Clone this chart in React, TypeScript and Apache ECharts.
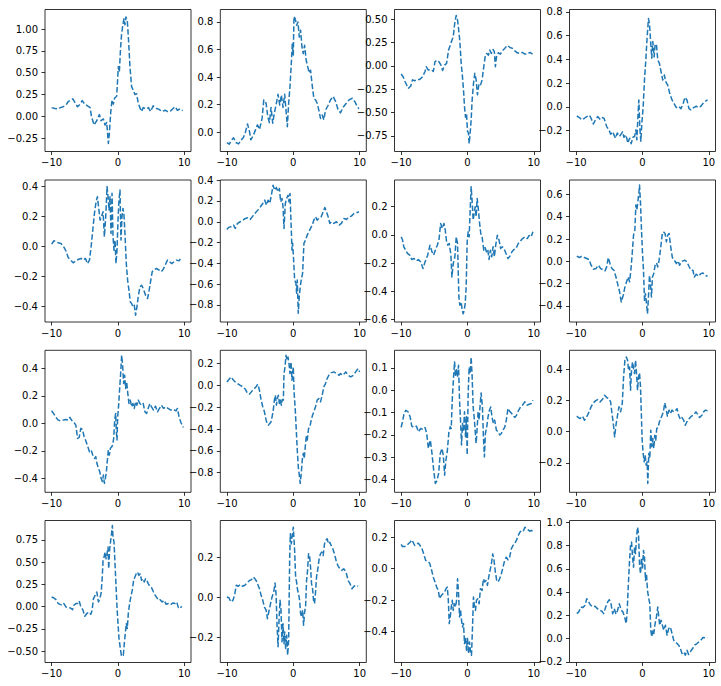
import React, { useEffect, useRef } from "react";
import * as echarts from "echarts";

const X_TICKS = [-10, 0, 10];

const S1 = [[-10,0.10],[-9.5,0.09],[-9.0,0.085],[-8.7,0.10],[-8.25,0.11],[-7.75,0.14],[-7.5,0.17],[-7.1,0.19],[-6.8,0.20],[-6.5,0.16],[-6.1,0.11],[-5.7,0.14],[-5.4,0.18],[-5.0,0.14],[-4.6,0.12],[-4.2,0.10],[-4.0,0.0],[-3.6,-0.10],[-3.2,-0.05],[-2.8,0.02],[-2.55,-0.05],[-2.2,-0.03],[-1.95,-0.10],[-1.7,-0.07],[-1.45,-0.31],[-1.3,-0.19],[-1.1,0.04],[-0.9,0.19],[-0.7,0.14],[-0.5,0.21],[-0.2,0.23],[0.05,0.57],[0.2,0.51],[0.4,0.80],[0.55,0.95],[0.7,1.03],[0.9,1.12],[1.05,1.05],[1.2,1.14],[1.4,1.10],[1.6,0.86],[1.8,0.57],[2.05,0.34],[2.3,0.30],[2.55,0.25],[2.8,0.26],[3.05,0.15],[3.3,0.10],[3.55,0.055],[3.8,0.10],[4.2,0.085],[4.6,0.10],[4.9,0.055],[5.3,0.12],[5.8,0.09],[6.2,0.08],[6.6,0.055],[7.1,0.07],[7.5,0.055],[7.9,0.06],[8.3,0.09],[8.6,0.11],[8.95,0.07],[9.35,0.085],[9.75,0.065]];
const S2 = [[-10,-0.075],[-9.65,-0.087],[-9.35,-0.06],[-9.0,-0.04],[-8.65,-0.075],[-8.25,-0.085],[-7.9,-0.06],[-7.5,-0.036],[-7.25,-0.007],[-6.9,0.06],[-6.6,0.005],[-6.4,-0.055],[-6.0,-0.02],[-5.7,0.017],[-5.4,0.053],[-5.1,0.02],[-4.7,0.10],[-4.45,0.234],[-4.1,0.21],[-3.85,0.113],[-3.6,0.07],[-3.35,0.18],[-3.1,0.065],[-2.85,0.14],[-2.55,0.21],[-2.3,0.275],[-2.05,0.197],[-1.8,0.27],[-1.55,0.18],[-1.3,0.275],[-1.1,0.16],[-0.9,0.04],[-0.7,0.21],[-0.5,0.33],[-0.3,0.50],[-0.15,0.64],[0.0,0.56],[0.1,0.84],[0.3,0.82],[0.5,0.775],[0.7,0.80],[0.9,0.69],[1.1,0.74],[1.3,0.62],[1.5,0.57],[1.7,0.63],[1.95,0.52],[2.2,0.47],[2.4,0.43],[2.6,0.45],[2.85,0.34],[3.1,0.245],[3.35,0.234],[3.6,0.21],[3.85,0.16],[4.1,0.10],[4.35,0.125],[4.6,0.09],[4.85,0.16],[5.2,0.19],[5.6,0.234],[6.0,0.26],[6.4,0.22],[6.7,0.17],[7.1,0.14],[7.5,0.18],[7.9,0.205],[8.4,0.234],[8.9,0.246],[9.3,0.22],[9.65,0.185],[9.9,0.17]];
const S3 = [[-10,-0.088],[-9.7,-0.116],[-9.4,-0.17],[-9.1,-0.216],[-8.9,-0.24],[-8.55,-0.216],[-8.3,-0.15],[-7.95,-0.16],[-7.55,-0.145],[-7.2,-0.145],[-6.8,-0.12],[-6.4,-0.06],[-6.2,-0.01],[-5.9,-0.045],[-5.5,-0.04],[-5.15,-0.06],[-4.9,0.044],[-4.6,0.06],[-4.3,0.044],[-4.0,0.008],[-3.75,-0.05],[-3.45,0.008],[-3.15,0.026],[-2.85,0.17],[-2.6,0.22],[-2.35,0.275],[-2.15,0.31],[-1.9,0.47],[-1.7,0.54],[-1.5,0.49],[-1.35,0.40],[-1.15,0.26],[-0.95,0.026],[-0.8,-0.08],[-0.6,-0.26],[-0.45,-0.44],[-0.3,-0.55],[-0.15,-0.51],[0.0,-0.70],[0.15,-0.72],[0.25,-0.835],[0.4,-0.72],[0.55,-0.58],[0.7,-0.365],[0.9,-0.19],[1.1,-0.08],[1.3,-0.15],[1.5,-0.31],[1.7,-0.205],[1.9,-0.22],[2.2,-0.15],[2.45,-0.01],[2.7,0.115],[2.9,0.133],[3.15,0.115],[3.35,0.17],[3.6,0.133],[3.85,0.176],[4.05,0.15],[4.2,-0.01],[4.4,0.115],[4.65,0.14],[4.95,0.126],[5.25,0.16],[5.6,0.187],[6.0,0.22],[6.4,0.197],[6.8,0.187],[7.15,0.16],[7.5,0.14],[7.9,0.133],[8.25,0.144],[8.65,0.126],[9.05,0.126],[9.4,0.144],[9.8,0.126]];
const S4 = [[-9.9,-0.077],[-9.5,-0.09],[-9.15,-0.11],[-8.75,-0.096],[-8.4,-0.082],[-8.0,-0.07],[-7.75,-0.096],[-7.4,-0.144],[-7.05,-0.105],[-6.75,-0.082],[-6.4,-0.105],[-6.15,-0.09],[-5.8,-0.096],[-5.4,-0.166],[-5.05,-0.194],[-4.8,-0.23],[-4.5,-0.21],[-4.3,-0.236],[-4.05,-0.264],[-3.8,-0.22],[-3.5,-0.25],[-3.3,-0.236],[-3.0,-0.21],[-2.8,-0.256],[-2.5,-0.236],[-2.2,-0.306],[-1.95,-0.264],[-1.7,-0.31],[-1.45,-0.256],[-1.2,-0.25],[-1.0,-0.194],[-0.85,-0.278],[-0.7,-0.096],[-0.55,0.058],[-0.4,-0.18],[-0.25,-0.29],[-0.1,-0.138],[0.1,0.0],[0.3,0.226],[0.5,0.394],[0.7,0.59],[0.9,0.744],[1.05,0.70],[1.25,0.53],[1.4,0.41],[1.55,0.55],[1.75,0.42],[1.9,0.52],[2.1,0.53],[2.3,0.394],[2.55,0.366],[2.8,0.296],[3.05,0.226],[3.3,0.268],[3.5,0.212],[3.8,0.184],[4.1,0.114],[4.45,0.058],[4.8,0.024],[5.1,-0.006],[5.45,0.005],[5.8,-0.015],[6.1,0.024],[6.4,0.08],[6.7,0.058],[7.0,-0.015],[7.3,-0.026],[7.7,-0.006],[8.1,0.005],[8.45,-0.006],[8.8,0.005],[9.2,0.035],[9.6,0.052],[9.8,0.058]];
const S5 = [[-10,0.013],[-9.65,0.036],[-9.35,0.029],[-9.0,0.022],[-8.6,0.018],[-8.25,0.0],[-7.9,-0.027],[-7.5,-0.076],[-7.15,-0.093],[-6.75,-0.111],[-6.35,-0.098],[-6.0,-0.089],[-5.6,-0.082],[-5.2,-0.093],[-4.9,-0.082],[-4.6,-0.116],[-4.3,-0.093],[-4.05,-0.004],[-3.8,0.107],[-3.55,0.218],[-3.3,0.296],[-3.1,0.329],[-2.9,0.25],[-2.7,0.173],[-2.5,0.196],[-2.25,0.229],[-2.05,0.062],[-1.85,0.196],[-1.65,0.396],[-1.5,0.329],[-1.35,0.24],[-1.2,0.329],[-1.05,0.084],[-0.9,0.351],[-0.75,0.062],[-0.6,-0.027],[-0.45,0.04],[-0.3,-0.116],[-0.15,-0.027],[0.0,0.173],[0.15,0.307],[0.3,0.373],[0.45,0.04],[0.6,0.196],[0.75,0.251],[0.9,0.207],[1.05,0.084],[1.25,-0.116],[1.45,-0.227],[1.65,-0.293],[1.85,-0.371],[2.05,-0.382],[2.25,-0.404],[2.45,-0.393],[2.65,-0.46],[2.85,-0.404],[3.05,-0.338],[3.3,-0.271],[3.55,-0.26],[3.8,-0.282],[4.15,-0.327],[4.45,-0.349],[4.7,-0.293],[4.9,-0.238],[5.15,-0.171],[5.45,-0.156],[5.8,-0.149],[6.2,-0.16],[6.5,-0.171],[6.8,-0.156],[7.1,-0.127],[7.45,-0.093],[7.75,-0.104],[8.1,-0.116],[8.45,-0.104],[8.85,-0.093],[9.2,-0.098],[9.55,-0.076]];
const S6 = [[-10,-0.074],[-9.75,-0.054],[-9.4,-0.048],[-9.0,-0.032],[-8.75,-0.064],[-8.4,-0.016],[-8.0,0.0],[-7.6,0.016],[-7.2,0.032],[-6.9,0.038],[-6.5,0.022],[-6.1,0.054],[-5.7,0.086],[-5.35,0.112],[-4.95,0.144],[-4.6,0.176],[-4.3,0.208],[-4.05,0.16],[-3.8,0.208],[-3.55,0.176],[-3.3,0.256],[-3.05,0.352],[-2.8,0.304],[-2.55,0.33],[-2.3,0.288],[-2.1,0.32],[-1.9,0.192],[-1.7,0.224],[-1.55,0.144],[-1.4,-0.064],[-1.2,0.176],[-1.0,0.224],[-0.8,0.256],[-0.65,0.192],[-0.5,0.272],[-0.3,-0.08],[-0.2,-0.272],[-0.1,-0.208],[0.05,-0.368],[0.2,-0.56],[0.4,-0.592],[0.5,-0.688],[0.6,-0.56],[0.75,-0.88],[0.9,-0.72],[1.05,-0.624],[1.2,-0.56],[1.4,-0.496],[1.6,-0.208],[1.85,-0.176],[2.1,-0.128],[2.35,-0.096],[2.6,-0.064],[2.85,-0.032],[3.1,0.016],[3.35,0.048],[3.6,0.016],[3.85,0.032],[4.2,0.048],[4.5,0.096],[4.75,0.138],[5.0,0.096],[5.25,0.048],[5.5,-0.016],[5.75,0.0],[6.1,-0.016],[6.5,0.0],[6.9,-0.032],[7.25,-0.016],[7.65,0.032],[8.0,0.022],[8.4,0.048],[8.75,0.054],[9.15,0.08],[9.5,0.086],[9.9,0.096]];
const S7 = [[-10,-0.014],[-9.8,-0.033],[-9.6,-0.085],[-9.3,-0.109],[-9.05,-0.132],[-8.7,-0.144],[-8.4,-0.175],[-8.05,-0.168],[-7.7,-0.185],[-7.4,-0.175],[-7.05,-0.192],[-6.7,-0.239],[-6.4,-0.192],[-6.0,-0.144],[-5.65,-0.073],[-5.35,-0.12],[-5.1,-0.144],[-4.85,-0.109],[-4.55,-0.073],[-4.3,-0.037],[-4.05,0.081],[-3.8,0.046],[-3.55,0.081],[-3.35,0.034],[-3.15,-0.049],[-2.95,-0.073],[-2.75,-0.061],[-2.5,-0.144],[-2.35,-0.299],[-2.15,-0.204],[-1.9,-0.156],[-1.7,-0.014],[-1.5,-0.061],[-1.3,-0.441],[-1.15,-0.50],[-0.95,-0.477],[-0.8,-0.536],[-0.65,-0.56],[-0.5,-0.536],[-0.35,-0.488],[-0.2,-0.37],[-0.05,-0.049],[0.1,0.022],[0.25,-0.014],[0.4,0.176],[0.55,0.342],[0.7,0.236],[0.85,0.105],[1.0,0.153],[1.15,0.2],[1.3,0.129],[1.45,0.259],[1.6,0.2],[1.8,0.093],[2.0,0.01],[2.2,-0.014],[2.45,-0.109],[2.65,-0.09],[2.85,-0.12],[3.05,-0.104],[3.25,-0.175],[3.45,-0.109],[3.65,-0.156],[3.85,-0.085],[4.05,-0.156],[4.25,-0.073],[4.5,-0.002],[4.75,-0.037],[5.0,-0.097],[5.25,-0.085],[5.5,-0.097],[5.8,-0.132],[6.1,-0.168],[6.4,-0.151],[6.7,-0.12],[7.0,-0.104],[7.3,-0.097],[7.65,-0.061],[8.0,-0.042],[8.3,-0.026],[8.65,-0.014],[9.0,-0.026],[9.3,-0.004],[9.6,-0.014],[9.85,0.022]];
const S8 = [[-9.9,0.046],[-9.5,0.034],[-9.15,0.046],[-8.75,0.034],[-8.4,0.025],[-8.05,0.016],[-7.75,-0.035],[-7.4,-0.071],[-7.0,-0.065],[-6.65,-0.035],[-6.3,-0.065],[-6.0,-0.074],[-5.65,-0.086],[-5.4,-0.05],[-5.15,0.034],[-4.9,-0.02],[-4.6,-0.065],[-4.3,-0.08],[-4.0,-0.14],[-3.7,-0.214],[-3.45,-0.274],[-3.2,-0.364],[-2.9,-0.304],[-2.65,-0.23],[-2.4,-0.184],[-2.15,-0.14],[-1.95,-0.184],[-1.75,-0.08],[-1.55,0.07],[-1.35,0.235],[-1.15,0.28],[-1.0,0.504],[-0.85,0.46],[-0.7,0.534],[-0.55,0.61],[-0.45,0.684],[-0.3,0.52],[-0.15,0.28],[0.0,0.07],[0.15,-0.08],[0.3,-0.35],[0.45,-0.29],[0.6,-0.38],[0.75,-0.47],[0.9,-0.32],[1.05,-0.125],[1.2,-0.2],[1.35,-0.32],[1.5,-0.14],[1.7,-0.11],[1.9,-0.035],[2.1,-0.014],[2.3,-0.05],[2.5,0.01],[2.7,0.1],[2.95,0.235],[3.15,0.265],[3.4,0.25],[3.6,0.175],[3.8,0.235],[4.0,0.25],[4.25,0.13],[4.5,0.034],[4.8,0.01],[5.1,-0.02],[5.35,0.004],[5.6,-0.035],[5.85,-0.005],[6.1,0.004],[6.4,0.01],[6.7,-0.005],[7.0,-0.044],[7.3,-0.08],[7.6,-0.08],[7.8,-0.14],[8.1,-0.116],[8.45,-0.134],[8.8,-0.11],[9.1,-0.104],[9.45,-0.125],[9.8,-0.134]];
const S9 = [[-10,0.092],[-9.65,0.068],[-9.35,0.044],[-9.0,0.024],[-8.65,0.019],[-8.25,0.024],[-7.9,0.029],[-7.5,0.024],[-7.25,0.044],[-7.0,0.024],[-6.6,0.005],[-6.35,-0.012],[-6.1,-0.109],[-5.85,-0.102],[-5.6,-0.036],[-5.35,-0.044],[-5.1,-0.097],[-4.8,-0.133],[-4.55,-0.17],[-4.3,-0.206],[-4.05,-0.194],[-3.8,-0.23],[-3.55,-0.255],[-3.35,-0.242],[-3.15,-0.296],[-2.95,-0.327],[-2.75,-0.352],[-2.55,-0.40],[-2.35,-0.424],[-2.2,-0.376],[-2.05,-0.436],[-1.9,-0.40],[-1.75,-0.352],[-1.6,-0.267],[-1.45,-0.194],[-1.3,-0.23],[-1.15,-0.182],[-0.95,-0.17],[-0.8,-0.158],[-0.65,-0.109],[-0.5,0.024],[-0.35,0.073],[-0.25,-0.06],[-0.15,-0.121],[-0.05,0.049],[0.1,0.133],[0.25,0.255],[0.4,0.364],[0.55,0.497],[0.7,0.424],[0.85,0.291],[1.0,0.352],[1.15,0.255],[1.3,0.303],[1.45,0.23],[1.65,0.145],[1.85,0.17],[2.05,0.121],[2.25,0.145],[2.45,0.109],[2.65,0.158],[2.85,0.133],[3.05,0.17],[3.3,0.145],[3.55,0.133],[3.8,0.145],[4.05,0.085],[4.3,0.073],[4.55,0.109],[4.8,0.145],[5.05,0.121],[5.35,0.097],[5.65,0.126],[5.95,0.085],[6.25,0.109],[6.55,0.133],[6.85,0.109],[7.2,0.121],[7.55,0.109],[7.95,0.097],[8.35,0.102],[8.75,0.092],[8.95,0.109],[9.2,0.049],[9.5,0.005],[9.85,-0.029]];
const S10 = [[-10,0.032],[-9.7,0.054],[-9.4,0.078],[-9.1,0.054],[-8.75,0.032],[-8.4,0.017],[-8.0,0.0],[-7.6,-0.013],[-7.2,-0.038],[-6.9,-0.074],[-6.6,-0.08],[-6.2,-0.05],[-5.85,-0.029],[-5.55,-0.007],[-5.35,0.011],[-5.1,-0.044],[-4.85,-0.135],[-4.6,-0.196],[-4.35,-0.242],[-4.1,-0.318],[-3.95,-0.349],[-3.75,-0.364],[-3.55,-0.349],[-3.35,-0.334],[-3.2,-0.288],[-3.05,-0.242],[-2.85,-0.135],[-2.7,-0.09],[-2.55,-0.181],[-2.4,-0.12],[-2.25,-0.09],[-2.1,-0.166],[-1.95,-0.135],[-1.8,-0.181],[-1.65,-0.129],[-1.5,-0.135],[-1.4,0.109],[-1.25,0.17],[-1.1,0.276],[-0.95,0.23],[-0.8,0.261],[-0.65,0.2],[-0.5,0.109],[-0.35,0.215],[-0.2,0.048],[0.0,0.17],[0.1,-0.044],[0.3,-0.227],[0.45,-0.41],[0.6,-0.593],[0.75,-0.745],[0.9,-0.821],[1.05,-0.898],[1.2,-0.806],[1.35,-0.684],[1.5,-0.623],[1.65,-0.669],[1.8,-0.562],[1.95,-0.47],[2.1,-0.501],[2.3,-0.395],[2.5,-0.379],[2.7,-0.318],[2.9,-0.273],[3.1,-0.242],[3.35,-0.196],[3.6,-0.135],[3.85,-0.12],[4.1,-0.151],[4.35,-0.09],[4.6,-0.013],[4.85,0.017],[5.1,0.063],[5.35,0.093],[5.7,0.115],[6.1,0.124],[6.5,0.109],[6.9,0.093],[7.1,0.109],[7.5,0.093],[7.9,0.124],[8.25,0.093],[8.65,0.078],[9.05,0.093],[9.4,0.124],[9.75,0.154],[10,0.124]];
const S11 = [[-10,-0.167],[-9.8,-0.142],[-9.55,-0.104],[-9.3,-0.09],[-8.95,-0.097],[-8.65,-0.119],[-8.4,-0.161],[-8.05,-0.167],[-7.7,-0.161],[-7.4,-0.187],[-7.05,-0.172],[-6.7,-0.176],[-6.4,-0.167],[-6.15,-0.194],[-5.9,-0.261],[-5.6,-0.224],[-5.35,-0.284],[-5.1,-0.358],[-4.85,-0.418],[-4.6,-0.406],[-4.35,-0.373],[-4.1,-0.284],[-3.85,-0.261],[-3.65,-0.291],[-3.45,-0.381],[-3.25,-0.313],[-3.05,-0.276],[-2.8,-0.187],[-2.6,-0.164],[-2.45,-0.172],[-2.3,-0.045],[-2.1,0.06],[-1.95,0.127],[-1.8,0.06],[-1.65,0.097],[-1.5,0.06],[-1.35,0.112],[-1.2,-0.045],[-1.05,-0.134],[-0.9,-0.246],[-0.75,-0.149],[-0.6,-0.179],[-0.45,-0.097],[-0.3,-0.209],[-0.15,-0.119],[-0.05,-0.291],[0.1,-0.015],[0.25,0.104],[0.4,0.075],[0.55,0.149],[0.7,0.06],[0.85,-0.075],[1.0,-0.119],[1.15,-0.179],[1.3,-0.239],[1.45,-0.172],[1.6,-0.097],[1.75,-0.134],[1.9,-0.067],[2.05,-0.012],[2.25,-0.075],[2.4,-0.209],[2.55,-0.299],[2.7,-0.194],[2.9,-0.164],[3.1,-0.119],[3.3,-0.09],[3.5,-0.075],[3.7,-0.122],[3.9,-0.149],[4.1,-0.134],[4.35,-0.179],[4.6,-0.187],[4.85,-0.201],[5.1,-0.194],[5.35,-0.179],[5.6,-0.167],[5.85,-0.134],[6.1,-0.082],[6.4,-0.097],[6.65,-0.104],[6.9,-0.116],[7.15,-0.122],[7.4,-0.112],[7.7,-0.09],[8.0,-0.075],[8.3,-0.067],[8.65,-0.052],[9.0,-0.067],[9.3,-0.063],[9.6,-0.06],[9.85,-0.045]];
const S12 = [[-9.9,0.10],[-9.65,0.091],[-9.4,0.085],[-9.05,0.10],[-8.75,0.074],[-8.4,0.096],[-8.05,0.128],[-7.75,0.16],[-7.4,0.186],[-7.05,0.20],[-6.75,0.207],[-6.4,0.192],[-6.05,0.207],[-5.7,0.235],[-5.4,0.22],[-5.1,0.214],[-4.8,0.192],[-4.6,0.117],[-4.4,0.053],[-4.2,-0.033],[-4.0,0.042],[-3.8,0.096],[-3.55,0.16],[-3.3,0.128],[-3.05,0.181],[-2.85,0.353],[-2.65,0.46],[-2.45,0.481],[-2.25,0.46],[-2.1,0.396],[-1.95,0.417],[-1.8,0.267],[-1.65,0.396],[-1.5,0.449],[-1.35,0.406],[-1.2,0.374],[-1.05,0.46],[-0.9,0.374],[-0.75,0.267],[-0.6,0.353],[-0.45,0.379],[-0.3,0.289],[-0.2,0.149],[-0.05,-0.054],[0.1,-0.14],[0.25,-0.194],[0.4,-0.151],[0.55,-0.215],[0.7,-0.194],[0.8,-0.333],[0.95,-0.14],[1.1,-0.172],[1.25,0.01],[1.4,-0.097],[1.55,-0.044],[1.7,-0.108],[1.85,-0.022],[2.0,-0.054],[2.15,0.021],[2.35,0.027],[2.55,0.064],[2.75,0.085],[2.95,0.106],[3.15,0.128],[3.35,0.186],[3.55,0.149],[3.75,0.10],[4.0,0.139],[4.2,0.117],[4.45,0.139],[4.7,0.128],[4.95,0.134],[5.2,0.149],[5.45,0.106],[5.7,0.079],[5.95,0.091],[6.2,0.074],[6.45,0.042],[6.7,0.064],[7.05,0.085],[7.35,0.10],[7.7,0.106],[8.05,0.128],[8.3,0.113],[8.6,0.091],[8.95,0.106],[9.2,0.128],[9.5,0.139],[9.8,0.134]];
const S13 = [[-10,0.108],[-9.65,0.097],[-9.35,0.078],[-9.0,0.034],[-8.65,0.022],[-8.35,0.015],[-8.15,0.034],[-7.85,-0.004],[-7.5,-0.011],[-7.15,-0.015],[-6.85,-0.034],[-6.65,0.015],[-6.35,0.034],[-6.1,0.034],[-5.85,0.063],[-5.6,-0.004],[-5.3,-0.034],[-5.0,-0.108],[-4.7,-0.078],[-4.4,-0.06],[-4.1,-0.086],[-3.9,-0.041],[-3.7,0.09],[-3.45,0.127],[-3.2,0.164],[-2.95,0.052],[-2.75,0.09],[-2.55,0.146],[-2.4,0.295],[-2.25,0.519],[-2.1,0.556],[-1.95,0.612],[-1.8,0.537],[-1.65,0.593],[-1.5,0.668],[-1.4,0.425],[-1.25,0.65],[-1.1,0.743],[-1.0,0.799],[-0.85,0.91],[-0.75,0.78],[-0.6,0.724],[-0.45,0.481],[-0.3,0.239],[-0.15,-0.004],[0.0,-0.19],[0.15,-0.358],[0.35,-0.47],[0.5,-0.545],[0.65,-0.534],[0.8,-0.545],[0.95,-0.414],[1.1,-0.302],[1.25,-0.19],[1.4,-0.246],[1.55,-0.078],[1.75,0.034],[1.95,0.116],[2.15,0.183],[2.35,0.295],[2.55,0.332],[2.75,0.369],[2.95,0.388],[3.15,0.35],[3.35,0.369],[3.55,0.295],[3.75,0.313],[3.95,0.276],[4.15,0.313],[4.35,0.295],[4.55,0.257],[4.8,0.228],[5.05,0.213],[5.35,0.164],[5.6,0.127],[5.85,0.101],[6.1,0.071],[6.35,0.078],[6.65,0.052],[6.95,0.071],[7.25,0.026],[7.6,0.034],[7.95,0.022],[8.25,0.041],[8.6,0.034],[8.85,0.052],[9.1,-0.011],[9.35,-0.022],[9.6,0.004]];
const S14 = [[-10,0.002],[-9.7,-0.002],[-9.4,-0.023],[-9.1,-0.015],[-8.85,0.01],[-8.6,0.06],[-8.3,0.055],[-8.0,0.064],[-7.65,0.055],[-7.3,0.06],[-7.0,0.071],[-6.6,0.084],[-6.3,0.088],[-6.0,0.101],[-5.6,0.084],[-5.35,0.064],[-5.1,0.043],[-4.85,0.01],[-4.6,-0.015],[-4.35,-0.048],[-4.1,-0.064],[-3.9,-0.106],[-3.7,-0.073],[-3.45,-0.035],[-3.2,0.002],[-2.95,0.026],[-2.75,0.071],[-2.6,0.018],[-2.45,-0.139],[-2.3,-0.246],[-2.15,-0.114],[-2.0,-0.015],[-1.85,-0.064],[-1.7,-0.221],[-1.55,-0.131],[-1.4,-0.23],[-1.3,-0.172],[-1.15,-0.254],[-1.0,-0.188],[-0.85,-0.288],[-0.7,-0.213],[-0.55,0.183],[-0.45,0.316],[-0.3,0.266],[-0.1,0.324],[0.0,0.349],[0.2,0.233],[0.35,0.101],[0.5,0.076],[0.65,0.035],[0.8,0.018],[0.95,-0.015],[1.1,-0.081],[1.25,-0.098],[1.4,-0.064],[1.55,-0.139],[1.7,-0.073],[1.85,-0.048],[2.0,0.084],[2.15,0.134],[2.3,0.217],[2.45,0.208],[2.6,0.15],[2.75,0.068],[2.9,0.043],[3.05,-0.015],[3.2,-0.031],[3.35,0.026],[3.5,0.101],[3.7,0.142],[3.9,0.192],[4.1,0.217],[4.3,0.225],[4.5,0.208],[4.7,0.266],[4.9,0.283],[5.1,0.291],[5.3,0.266],[5.5,0.274],[5.7,0.258],[5.95,0.241],[6.2,0.217],[6.45,0.183],[6.7,0.159],[7.0,0.142],[7.3,0.134],[7.6,0.142],[7.95,0.126],[8.25,0.084],[8.55,0.068],[8.85,0.043],[9.15,0.055],[9.45,0.06],[9.75,0.055]];
const S15 = [[-10,0.154],[-9.8,0.141],[-9.45,0.141],[-9.15,0.147],[-8.9,0.158],[-8.65,0.168],[-8.4,0.183],[-8.2,0.168],[-7.95,0.147],[-7.65,0.158],[-7.4,0.162],[-7.15,0.147],[-6.9,0.132],[-6.6,0.094],[-6.3,0.052],[-6.0,0.048],[-5.7,0.035],[-5.4,-0.011],[-5.15,-0.054],[-4.9,-0.085],[-4.65,-0.117],[-4.4,-0.138],[-4.2,-0.191],[-3.95,-0.17],[-3.7,-0.159],[-3.45,-0.149],[-3.25,-0.128],[-3.05,-0.117],[-2.9,-0.191],[-2.75,-0.349],[-2.6,-0.307],[-2.45,-0.244],[-2.3,-0.201],[-2.15,-0.265],[-2.0,-0.223],[-1.8,-0.244],[-1.65,-0.201],[-1.5,-0.064],[-1.35,-0.159],[-1.2,-0.307],[-1.05,-0.265],[-0.9,-0.328],[-0.75,-0.37],[-0.6,-0.349],[-0.45,-0.476],[-0.3,-0.434],[-0.15,-0.518],[0.0,-0.444],[0.15,-0.539],[0.3,-0.466],[0.45,-0.529],[0.6,-0.55],[0.75,-0.381],[0.9,-0.18],[1.05,-0.244],[1.2,-0.265],[1.35,-0.201],[1.55,-0.191],[1.75,-0.223],[1.95,-0.128],[2.2,-0.138],[2.4,-0.064],[2.6,-0.085],[2.8,-0.075],[3.0,-0.106],[3.2,-0.054],[3.4,-0.011],[3.6,0.031],[3.8,0.094],[4.0,0.052],[4.2,-0.022],[4.4,-0.075],[4.6,-0.085],[4.85,-0.064],[5.1,-0.032],[5.35,0.01],[5.6,0.052],[5.85,0.073],[6.1,0.056],[6.35,0.073],[6.6,0.126],[6.85,0.147],[7.1,0.158],[7.4,0.183],[7.65,0.211],[7.9,0.232],[8.15,0.242],[8.4,0.238],[8.65,0.263],[8.9,0.253],[9.15,0.246],[9.4,0.238],[9.65,0.242],[9.9,0.238]];
const S16 = [[-9.9,0.214],[-9.6,0.229],[-9.3,0.271],[-9.0,0.266],[-8.65,0.286],[-8.4,0.343],[-8.1,0.314],[-7.8,0.286],[-7.5,0.271],[-7.15,0.277],[-6.8,0.257],[-6.5,0.243],[-6.15,0.237],[-5.85,0.214],[-5.55,0.271],[-5.25,0.314],[-5.0,0.334],[-4.75,0.30],[-4.5,0.214],[-4.25,0.257],[-4.0,0.209],[-3.75,0.243],[-3.5,0.30],[-3.2,0.243],[-2.95,0.229],[-2.7,0.186],[-2.45,0.129],[-2.3,0.243],[-2.15,0.443],[-1.95,0.671],[-1.8,0.80],[-1.65,0.829],[-1.5,0.70],[-1.35,0.614],[-1.2,0.786],[-1.05,0.729],[-0.9,0.871],[-0.75,0.957],[-0.6,0.90],[-0.45,0.643],[-0.3,0.557],[-0.15,0.686],[0.0,0.60],[0.15,0.757],[0.3,0.70],[0.45,0.50],[0.6,0.557],[0.75,0.414],[0.95,0.343],[1.1,0.30],[1.25,0.071],[1.4,0.014],[1.55,0.071],[1.7,0.043],[1.9,0.129],[2.1,0.186],[2.3,0.271],[2.45,0.186],[2.6,0.114],[2.8,0.157],[3.0,0.114],[3.2,0.071],[3.45,0.114],[3.7,0.029],[3.95,0.086],[4.2,0.10],[4.45,0.043],[4.7,-0.014],[4.95,-0.029],[5.2,-0.043],[5.45,-0.057],[5.7,-0.086],[5.95,-0.129],[6.2,-0.114],[6.45,-0.143],[6.7,-0.10],[6.95,-0.137],[7.2,-0.114],[7.55,-0.086],[7.85,-0.057],[8.2,-0.043],[8.5,-0.029],[8.8,-0.014],[9.1,0.009],[9.45,0.006],[9.8,0.006]];

const SERIES = [S1, S2, S3, S4, S5, S6, S7, S8, S9, S10, S11, S12, S13, S14, S15, S16];

const Y_MIN = [-0.403, -0.14, -0.918, -0.376, -0.505, -0.965, -0.619, -0.544, -0.502, -0.98, -0.458, -0.39, -0.627, -0.324, -0.596, -0.206];
const Y_MAX = [1.225, 0.89, 0.604, 0.82, 0.44, 0.402, 0.39, 0.729, 0.533, 0.322, 0.179, 0.524, 0.966, 0.382, 0.306, 1.015];
const Y_TICKS = [
  [-0.25, 0, 0.25, 0.5, 0.75, 1.0],
  [0, 0.2, 0.4, 0.6, 0.8],
  [-0.75, -0.5, -0.25, 0, 0.25, 0.5],
  [-0.2, 0, 0.2, 0.4, 0.6, 0.8],
  [-0.4, -0.2, 0, 0.2, 0.4],
  [-0.8, -0.6, -0.4, -0.2, 0, 0.2, 0.4],
  [-0.6, -0.4, -0.2, 0, 0.2],
  [-0.4, -0.2, 0, 0.2, 0.4, 0.6],
  [-0.4, -0.2, 0, 0.2, 0.4],
  [-0.8, -0.6, -0.4, -0.2, 0, 0.2],
  [-0.4, -0.3, -0.2, -0.1, 0, 0.1],
  [-0.2, 0, 0.2, 0.4],
  [-0.5, -0.25, 0, 0.25, 0.5, 0.75],
  [-0.2, 0, 0.2],
  [-0.4, -0.2, 0, 0.2],
  [-0.2, 0, 0.2, 0.4, 0.6, 0.8, 1.0],
];
const Y_DECIMALS = [2, 1, 2, 1, 1, 1, 1, 1, 1, 1, 1, 1, 2, 1, 1, 1];

const COL_LEFT = [45, 220.3, 394.5, 569.5];
const ROW_TOP = [9.5, 180, 350.3, 520.5];
const PANEL_W = 146;
const PANEL_H = 142;

const fmt = (v: number, d: number) => {
  const r = Math.abs(v) < 1e-9 ? 0 : v;
  return (r < 0 ? "\u2212" : "") + Math.abs(r).toFixed(d);
};

export default function App() {
  const ref = useRef<HTMLDivElement>(null);
  useEffect(() => {
    document.body.style.margin = "0";
    if (!ref.current) return;
    const chart = echarts.init(ref.current, null, { renderer: "svg" });
    const font = { fontFamily: "DejaVu Sans", fontSize: 10, color: "#000" };
    const tickStyle = { color: "#000", width: 0.8 };
    const grid: any[] = [];
    const xAxis: any[] = [];
    const yAxis: any[] = [];
    const series: any[] = [];
    SERIES.forEach((data, i) => {
      const col = i % 4;
      const row = Math.floor(i / 4);
      grid.push({
        left: COL_LEFT[col],
        top: ROW_TOP[row],
        width: PANEL_W,
        height: PANEL_H,
        show: true,
        borderColor: "#000",
        borderWidth: 0.8,
        backgroundColor: "transparent",
        containLabel: false,
        outerBoundsMode: "none",
      });
      xAxis.push({
        gridIndex: i,
        type: "value",
        min: -11,
        max: 11,
        axisLine: { show: false, onZero: false },
        axisTick: { show: true, customValues: X_TICKS, length: 3.5, lineStyle: tickStyle },
        axisLabel: { ...font, customValues: X_TICKS, margin: 6, formatter: (v: number) => fmt(v, 0) },
        splitLine: { show: false },
      });
      yAxis.push({
        gridIndex: i,
        type: "value",
        min: Y_MIN[i],
        max: Y_MAX[i],
        axisLine: { show: false, onZero: false },
        axisTick: { show: true, customValues: Y_TICKS[i], length: 3.5, lineStyle: tickStyle },
        axisLabel: { ...font, customValues: Y_TICKS[i], margin: 7, formatter: (v: number) => fmt(v, Y_DECIMALS[i]) },
        splitLine: { show: false },
      });
      series.push({
        type: "line",
        xAxisIndex: i,
        yAxisIndex: i,
        data,
        symbol: "none",
        showSymbol: false,
        lineStyle: { color: "#1f77b4", width: 1.5, type: [5.55, 2.4], cap: "butt", join: "round" },
        emphasis: { disabled: true },
      });
    });
    chart.setOption({
      animation: false,
      backgroundColor: "#fff",
      grid,
      xAxis,
      yAxis,
      series,
    });
    return () => chart.dispose();
  }, []);
  return <div ref={ref} style={{ position: "absolute", left: 0, top: 0, width: 721, height: 686 }} />;
}
